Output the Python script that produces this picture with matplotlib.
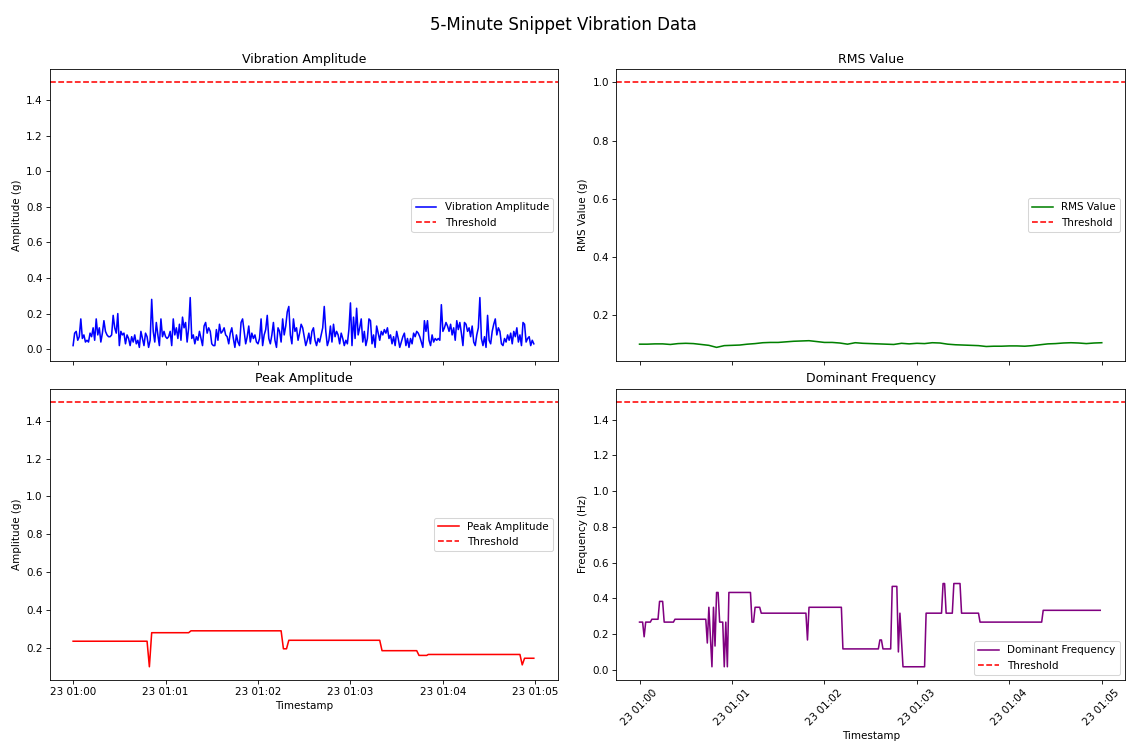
import numpy as np
import pandas as pd
import matplotlib
matplotlib.use("Agg")
import matplotlib.pyplot as plt

# ---------------------------------------------------------------- #
# 5분 구간 진동 데이터 (1초 간격 진폭)
start = pd.Timestamp("2024-05-23 01:00:00")

amplitude = [
    0.02, 0.09, 0.10, 0.05, 0.07, 0.17, 0.06, 0.08, 0.04, 0.05,
    0.04, 0.09, 0.07, 0.12, 0.05, 0.17, 0.08, 0.12, 0.04, 0.09,
    0.16, 0.10, 0.08, 0.07, 0.07, 0.08, 0.19, 0.12, 0.09, 0.20,
    0.02, 0.10, 0.08, 0.09, 0.03, 0.08, 0.06, 0.02, 0.07, 0.04,
    0.08, 0.03, 0.05, 0.01, 0.10, 0.06, 0.02, 0.09, 0.07, 0.01,
    0.05, 0.28, 0.10, 0.04, 0.15, 0.08, 0.02, 0.17, 0.07, 0.10,
    0.07, 0.06, 0.07, 0.10, 0.02, 0.17, 0.08, 0.12, 0.06, 0.14,
    0.05, 0.18, 0.12, 0.15, 0.04, 0.12, 0.29, 0.06, 0.08, 0.03,
    0.07, 0.05, 0.10, 0.06, 0.02, 0.13, 0.15, 0.09, 0.12, 0.10,
    0.03, 0.02, 0.02, 0.11, 0.05, 0.14, 0.09, 0.10, 0.12, 0.08,
    0.07, 0.03, 0.09, 0.12, 0.06, 0.01, 0.08, 0.04, 0.02, 0.15,
    0.17, 0.10, 0.03, 0.07, 0.13, 0.04, 0.09, 0.06, 0.08, 0.04,
    0.03, 0.06, 0.17, 0.02, 0.08, 0.11, 0.19, 0.06, 0.03, 0.08,
    0.15, 0.05, 0.01, 0.12, 0.10, 0.04, 0.17, 0.08, 0.13, 0.21,
    0.24, 0.08, 0.03, 0.17, 0.10, 0.12, 0.05, 0.09,
    0.14, 0.12, 0.07, 0.02, 0.05, 0.09, 0.03, 0.10, 0.12, 0.05,
    0.02, 0.06, 0.04, 0.08, 0.12, 0.24, 0.10, 0.02, 0.05, 0.13,
    0.04, 0.14, 0.07, 0.10, 0.08, 0.03, 0.09, 0.06, 0.02, 0.05,
    0.03, 0.11, 0.26, 0.02, 0.18, 0.06, 0.23, 0.08, 0.12, 0.17,
    0.04, 0.10, 0.02, 0.06, 0.17, 0.16, 0.03, 0.08, 0.01, 0.13,
    0.09, 0.05, 0.10, 0.08, 0.11, 0.09, 0.12, 0.06, 0.08, 0.03,
    0.07, 0.02, 0.10, 0.06, 0.01, 0.04, 0.07, 0.09, 0.02, 0.06,
    0.01, 0.06, 0.03, 0.09, 0.07, 0.10,
    0.09, 0.07, 0.04, 0.01, 0.16, 0.10, 0.16, 0.05, 0.02, 0.08,
    0.04, 0.06, 0.05, 0.06, 0.05, 0.25, 0.10, 0.12, 0.15, 0.13,
    0.10, 0.14, 0.08, 0.12, 0.05, 0.16, 0.11, 0.15, 0.09, 0.02,
    0.15, 0.14, 0.10, 0.12, 0.07, 0.13, 0.04, 0.02, 0.08, 0.12,
    0.29, 0.06, 0.02, 0.07, 0.01, 0.19, 0.05, 0.03, 0.10, 0.14,
    0.17, 0.08, 0.12, 0.10, 0.03, 0.02, 0.06, 0.04, 0.08, 0.05,
    0.09, 0.03, 0.10, 0.07, 0.12, 0.04, 0.08, 0.02, 0.15, 0.14,
    0.04, 0.06, 0.07, 0.02, 0.05, 0.03,
]

# RMS 값 (5초 간격)
rms_values = [
    0.099, 0.099, 0.100, 0.100, 0.098, 0.101, 0.102, 0.101, 0.098, 0.095,
    0.088, 0.094, 0.095, 0.096, 0.099, 0.101, 0.104, 0.105, 0.105, 0.107,
    0.109, 0.110, 0.111, 0.108, 0.105, 0.105, 0.103, 0.099, 0.104, 0.102,
    0.101, 0.100, 0.099, 0.098, 0.102, 0.100, 0.102, 0.101, 0.104, 0.103,
    0.099, 0.097, 0.096, 0.095, 0.094, 0.091, 0.092, 0.092, 0.093, 0.093,
    0.092, 0.094, 0.097, 0.100, 0.101, 0.103, 0.104, 0.103, 0.101, 0.103,
    0.104,
]

# 피크 진폭 (변화 지점, 초)
peak_sec = [0, 48, 49.5, 51, 75, 76.5, 135, 136.5, 138.5, 140,
            199, 200.5, 223, 224.5, 229.5, 230.5, 290, 291.5, 293, 299]
peak_values = [0.235, 0.235, 0.10, 0.28, 0.28, 0.29, 0.29, 0.195, 0.195, 0.24,
               0.24, 0.185, 0.185, 0.16, 0.16, 0.165, 0.165, 0.11, 0.145, 0.145]

# 주파수 (변화 지점, 초)
freq_sec = [0, 2, 3, 4, 7, 8, 12, 13, 15, 16, 22, 23, 43, 44, 45, 47, 48, 49,
            50, 51, 52, 54, 55, 56, 57, 58, 72, 73, 74, 75, 78, 79, 108, 109,
            110, 131, 132, 155, 156, 157, 158, 163, 164, 167, 168, 169, 171,
            185, 186, 196, 197, 198, 199, 203, 204, 208, 209, 220, 221, 261,
            262, 299]
freq_values = [0.267, 0.267, 0.185, 0.267, 0.267, 0.283, 0.283, 0.383, 0.383,
               0.267, 0.267, 0.283, 0.283, 0.15, 0.35, 0.017, 0.35, 0.133,
               0.433, 0.433, 0.267, 0.267, 0.017, 0.267, 0.017, 0.433, 0.433,
               0.267, 0.267, 0.35, 0.35, 0.317, 0.317, 0.167, 0.35, 0.35,
               0.117, 0.117, 0.167, 0.167, 0.117, 0.117, 0.467, 0.467, 0.10,
               0.317, 0.017, 0.017, 0.317, 0.317, 0.483, 0.483, 0.317, 0.317,
               0.483, 0.483, 0.317, 0.317, 0.267, 0.267, 0.333, 0.333]

amp_threshold = 1.5
rms_threshold = 1.0
peak_threshold = 1.5
freq_threshold = 1.5

# 타임스탬프 생성
amp_time = start + pd.to_timedelta(np.arange(len(amplitude)), unit="s")
rms_time = start + pd.to_timedelta(np.arange(len(rms_values)) * 5, unit="s")
peak_time = start + pd.to_timedelta(peak_sec, unit="s")
freq_time = start + pd.to_timedelta(freq_sec, unit="s")

# ---------------------------------------------------------------- #
fig, axes = plt.subplots(2, 2, figsize=(1126 / 75, 744 / 75), dpi=75, sharex=True)
fig.suptitle("5-Minute Snippet Vibration Data", fontsize=16, y=0.978)

ax = axes[0, 0]
ax.plot(amp_time, amplitude, color="blue", label="Vibration Amplitude")
ax.axhline(amp_threshold, color="red", linestyle="--", label="Threshold")
ax.set_title("Vibration Amplitude")
ax.set_ylabel("Amplitude (g)")
ax.legend(loc="center right")

ax = axes[0, 1]
ax.plot(rms_time, rms_values, color="green", label="RMS Value")
ax.axhline(rms_threshold, color="red", linestyle="--", label="Threshold")
ax.set_title("RMS Value")
ax.set_ylabel("RMS Value (g)")
ax.legend(loc="center right")

ax = axes[1, 0]
ax.plot(peak_time, peak_values, color="red", label="Peak Amplitude")
ax.axhline(peak_threshold, color="red", linestyle="--", label="Threshold")
ax.set_title("Peak Amplitude")
ax.set_ylabel("Amplitude (g)")
ax.set_xlabel("Timestamp")
ax.legend(loc="center right")

ax = axes[1, 1]
ax.plot(freq_time, freq_values, color="purple", label="Dominant Frequency")
ax.axhline(freq_threshold, color="red", linestyle="--", label="Threshold")
ax.set_title("Dominant Frequency")
ax.set_ylabel("Frequency (Hz)")
ax.set_xlabel("Timestamp")
ax.legend(loc="lower right")
ax.tick_params(axis="x", labelrotation=45)

fig.subplots_adjust(left=0.0444, right=0.999, top=0.907, bottom=0.086,
                    wspace=0.114, hspace=0.096)
fig.savefig("out.png")
